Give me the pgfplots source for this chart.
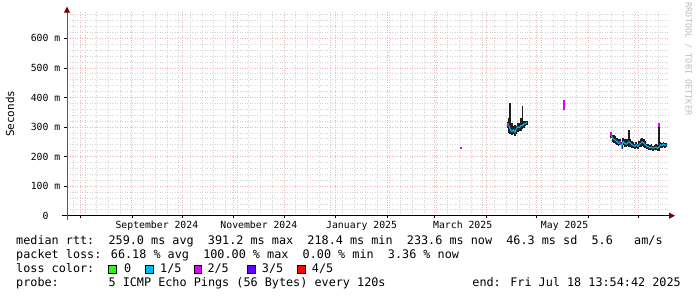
\documentclass[border=0pt]{standalone}
\usepackage{pgfplots}
\pgfplotsset{compat=1.18}
\usepackage{pgfplotstable}
\usepackage{fontspec}
\setmainfont{DejaVu Sans Mono}
\usetikzlibrary{arrows.meta}
\definecolor{medblue}{RGB}{0,184,255}
\definecolor{lossgreen}{RGB}{38,255,0}
\definecolor{lossmag}{RGB}{221,0,255}
\definecolor{lossviolet}{RGB}{100,0,255}
\definecolor{lossred}{RGB}{255,0,0}
\definecolor{majgrid}{RGB}{240,180,180}
\definecolor{mingrid}{RGB}{212,212,212}
\definecolor{arrowred}{RGB}{128,0,0}
\definecolor{wmgray}{RGB}{190,190,190}
\definecolor{smoke}{RGB}{30,30,30}
\newcommand\smallf{\fontsize{9.8bp}{11bp}\selectfont}
\newcommand\legf{\fontsize{11.8bp}{14bp}\selectfont}

% days since 1 Aug 2024; median, low and high round-trip time (ms)
\pgfplotstableread{
d med lo hi
256.1 310 298 316
257.0 300 280 330
257.6 290 276 382
258.5 285 272 312
259.4 290 275 305
260.3 282 270 308
261.2 295 276 302
262.1 300 282 312
263.0 298 285 314
263.9 305 288 332
264.8 305 292 372
265.7 310 298 320
266.6 312 303 320
267.5 315 306 322
}\clusterA

\pgfplotstableread{
d med lo hi
317.8 275 262 283
318.7 262 248 272
319.6 258 246 274
320.5 255 242 270
321.4 250 238 264
322.3 245 235 258
323.2 248 238 260
324.1 235 226 248
325.0 250 238 264
325.9 245 233 258
326.8 242 232 252
327.6 245 235 258
328.5 250 233 290
329.4 245 233 258
330.3 240 230 252
331.2 238 228 248
332.1 235 226 244
333.0 240 228 250
333.9 235 226 243
334.8 242 232 252
335.7 245 233 260
336.6 250 236 264
337.5 245 233 258
338.4 240 230 252
339.3 235 226 244
340.2 232 223 242
341.1 230 222 240
342.0 232 223 242
342.9 228 220 237
343.8 230 222 240
344.7 232 223 242
345.6 228 220 238
346.5 232 220 308
347.4 240 230 250
348.3 238 230 247
349.2 242 233 250
350.1 238 230 247
351.0 240 233 247
}\clusterB

\pgfplotstableread{
d med lo hi
228.0 229 224 233
256.1 308 302 314
289.6 385 356 391
317.8 276 270 282
323.2 248 243 252
346.5 306 300 312
}\lossmagdata

\pgfplotstableread{
d med lo hi
324.1 231 226 235
}\lossgreendata

\begin{document}
\begin{tikzpicture}
\useasboundingbox (-67bp,-81.3bp) rectangle (630bp,215.7bp);
\fill[white] (-67bp,-81.3bp) rectangle (630bp,215.7bp);
\begin{axis}[
  at={(0,0)}, anchor=south west,
  scale only axis, width=602bp, height=204bp,
  xmin=-7.8, xmax=352.5, ymin=0, ymax=690,
  axis x line=bottom, axis y line=left,
  x axis line style={black, line width=0.8bp, shorten <=-5bp, shorten >=-6bp,
    -{Triangle[length=6bp,width=6bp,color=arrowred]}},
  y axis line style={black!65, line width=0.8bp, shorten <=-4bp, shorten >=-5bp,
    -{Triangle[length=6bp,width=6bp,color=arrowred]}},
  xtick={0,31,61,92,122,153,184,212,243,273,304,334},
  xticklabels={,,,,,,,,,,,},
  minor xtick={-4,3,...,346},
  extra x ticks={46,107,168.5,229,290},
  extra x tick labels={September 2024,November 2024,January 2025,March 2025,May 2025},
  extra x tick style={grid=none, major tick length=0pt},
  ytick={0,100,...,600},
  yticklabels={0\phantom{00},100 m,200 m,300 m,400 m,500 m,600 m},
  minor ytick={20,40,...,680},
  grid=both,
  major grid style={majgrid, dash pattern=on 1bp off 1.5bp, line width=0.7bp},
  minor grid style={mingrid, dash pattern=on 1bp off 1.5bp, line width=0.7bp},
  tick style={black, line width=0.6bp},
  major tick length=2.5bp, minor tick length=0bp,
  tick align=outside,
  /pgf/number format/assume math mode=true,
  xticklabel style={font=\smallf, anchor=base, inner sep=0pt, yshift=-12.6bp},
  yticklabel style={font=\smallf, anchor=east, inner sep=0pt, xshift=-4bp},
  clip=false,
]
% smoke (spread of the pings)
\addplot[draw=none, mark=none, forget plot,
  error bars/.cd, y dir=both, y explicit, error mark=none,
  error bar style={draw=smoke, line width=1.9bp, solid}]
  table[x=d, y=med, y error plus expr=\thisrow{hi}-\thisrow{med},
        y error minus expr=\thisrow{med}-\thisrow{lo}] \clusterA;
\addplot[draw=none, mark=none, forget plot,
  error bars/.cd, y dir=both, y explicit, error mark=none,
  error bar style={draw=smoke, line width=1.9bp, solid}]
  table[x=d, y=med, y error plus expr=\thisrow{hi}-\thisrow{med},
        y error minus expr=\thisrow{med}-\thisrow{lo}] \clusterB;
% median rtt
\addplot[medblue, line width=1.1bp, mark=none] table[x=d, y=med] \clusterA;
\addplot[medblue, line width=1.1bp, mark=none] table[x=d, y=med] \clusterB;
% loss-coloured median samples
\addplot[draw=none, mark=none,
  error bars/.cd, y dir=both, y explicit, error mark=none,
  error bar style={draw=lossmag, line width=1.3bp, solid}]
  table[x=d, y=med, y error plus expr=\thisrow{hi}-\thisrow{med},
        y error minus expr=\thisrow{med}-\thisrow{lo}] \lossmagdata;
\addplot[draw=none, mark=none,
  error bars/.cd, y dir=both, y explicit, error mark=none,
  error bar style={draw=lossgreen, line width=1.5bp, solid}]
  table[x=d, y=med, y error plus expr=\thisrow{hi}-\thisrow{med},
        y error minus expr=\thisrow{med}-\thisrow{lo}] \lossgreendata;
\end{axis}
% y label
\node[rotate=90, font=\fontsize{11bp}{12bp}\selectfont, inner sep=0pt] at (-57bp,102bp) {Seconds};
% watermark
\node[rotate=-90, font=\fontsize{8.5bp}{9bp}\selectfont, text=wmgray, inner sep=0pt] at (621.5bp,156.7bp) {RRDTOOL / TOBI OETIKER};
% legend lines
\begin{scope}[every node/.style={anchor=base west, inner sep=0pt, font=\legf}]
\node at (-51bp,-28.3bp) {median rtt:~~259.0 ms avg~~391.2 ms max~~218.4 ms min~~233.6 ms now~~46.3 ms sd~~5.6~~~am/s};
\node at (-51bp,-42.6bp) {packet loss: 66.18 \% avg~~100.00 \% max~~0.00 \% min~~3.36 \% now};
\node at (-51bp,-56.8bp) {loss color:};
\node at (57bp,-56.8bp) {0};
\node at (93bp,-56.8bp) {1/5};
\node at (140.3bp,-56.8bp) {2/5};
\node at (194.7bp,-56.8bp) {3/5};
\node at (244.7bp,-56.8bp) {4/5};
\node at (-51bp,-71bp) {probe:~~~~~~~5 ICMP Echo Pings (56 Bytes) every 120s};
\node[anchor=base east] at (614bp,-71bp) {end: Fri Jul 18 13:54:42 2025};
\end{scope}
\filldraw[fill=lossgreen, draw=black, line width=0.6bp] (41.3bp,-57.3bp) rectangle ++(7.7bp,8bp);
\filldraw[fill=medblue, draw=black, line width=0.6bp] (78.7bp,-57.3bp) rectangle ++(7.7bp,8bp);
\filldraw[fill=lossmag, draw=black, line width=0.6bp] (127bp,-57.3bp) rectangle ++(7.7bp,8bp);
\filldraw[fill=lossviolet, draw=black, line width=0.6bp] (180.3bp,-57.3bp) rectangle ++(7.7bp,8bp);
\filldraw[fill=lossred, draw=black, line width=0.6bp] (230.7bp,-57.3bp) rectangle ++(7.7bp,8bp);
\end{tikzpicture}
\end{document}
